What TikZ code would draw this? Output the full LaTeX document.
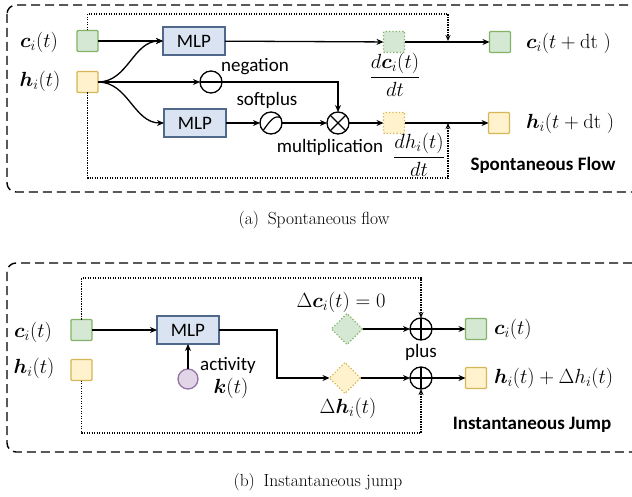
\RequirePackage{fix-cm}
\documentclass[tikz,border=0pt]{standalone}
\usepackage{amsmath,bm}
\usepackage{fontspec}
\newfontfamily\uifont{Carlito}
\usetikzlibrary{arrows.meta,shapes.geometric,calc}

\definecolor{cfill}{HTML}{D5E8D4}
\definecolor{cline}{HTML}{82B366}
\definecolor{hfill}{HTML}{FFF2CC}
\definecolor{hline}{HTML}{D6B656}
\definecolor{mfill}{HTML}{DAE3F1}
\definecolor{mline}{HTML}{50698A}
\definecolor{kfill}{HTML}{E1D5E7}
\definecolor{kline}{HTML}{9673A6}

\newcommand{\uitext}{\uifont\fontsize{19}{22}\selectfont}
\newcommand{\mtext}{\fontsize{20.5}{24}\selectfont}

\begin{document}
\begin{tikzpicture}[x=1pt,y=-1pt,
  every node/.style={inner sep=0pt, outer sep=0pt},
  conn/.style={line width=1.3pt, -{Stealth[length=7pt,width=6pt]}},
  dotl/.style={line width=1.2pt, dash pattern=on 1.2pt off 1.3pt, -{Stealth[length=6pt,width=5pt]}},
  frame/.style={line width=1.4pt, dash pattern=on 9pt off 5pt, rounded corners=9pt},
  statebox/.style={rectangle, minimum size=21pt, line width=1.3pt, rounded corners=1pt},
  cstate/.style={statebox, fill=cfill, draw=cline},
  hstate/.style={statebox, fill=hfill, draw=hline},
  cgrad/.style={statebox, fill=cfill, draw=cline, dotted, line width=1.2pt},
  hgrad/.style={statebox, fill=hfill, draw=hline, dotted, line width=1.2pt},
  cjump/.style={diamond, minimum size=31pt, fill=cfill, draw=cline, dotted, line width=1.2pt},
  hjump/.style={diamond, minimum size=31pt, fill=hfill, draw=hline, dotted, line width=1.2pt},
  mlp/.style={rectangle, minimum width=62pt, minimum height=28pt, fill=mfill, draw=mline, line width=1.3pt, font=\uitext},
  op/.style={circle, minimum size=22pt, draw, line width=1.3pt},
  lbl/.style={font=\uitext},
  mlbl/.style={font=\mtext},
  title/.style={font=\uifont\bfseries\fontsize{19}{22}\selectfont},
  caption/.style={font=\fontsize{17.5}{20}\selectfont}
]
\useasboundingbox (0,0) rectangle (632,497);

% ---------------- (a) spontaneous flow ----------------
\draw[frame] (7,5) rectangle (645,192);

\node[mlbl] (lc) at (39,42) {$\bm{c}_i(t)$};
\node[mlbl] (lh) at (40,81) {$\bm{h}_i(t)$};

\node[cstate] (c) at (87.5,41) {};
\node[hstate] (h) at (87.5,82) {};

\node[mlp] (mlp1) at (194,41) {MLP};
\node[mlp] (mlp2) at (195,123) {MLP};

\node[op] (neg) at (211,82) {};
\draw[line width=1.3pt] (neg.west) -- (neg.east);
\node[op] (soft) at (271,123) {};
\draw[line width=1.2pt] ($(soft)+(-7.5,7)$) .. controls ($(soft)+(-1,-2)$) and ($(soft)+(3,-8)$) .. ($(soft)+(9.5,-5.5)$);
\node[op] (mul) at (338,123) {};
\draw[line width=1.3pt] (mul.north west) -- (mul.south east) (mul.north east) -- (mul.south west);

\node[lbl] (tneg) at (255,67) {negation};
\node[lbl] (tsoft) at (267,100) {softplus};
\node[lbl] (tmul) at (330,147) {multiplication};

\node[cgrad] (dc) at (394,42) {};
\node[hgrad] (dh) at (394,123) {};
\node[mlbl] (ldc) at (395,75) {$\dfrac{d\bm{c}_i(t)}{dt}$};
\node[mlbl] (ldh) at (419,155) {$\dfrac{dh_i(t)}{dt}$};

\node[cstate] (cout) at (500,42) {};
\node[hstate] (hout) at (499,123) {};
\node[mlbl, anchor=west] (lcout) at (526,43) {$\bm{c}_i(t+\mathrm{dt}\;)$};
\node[mlbl, anchor=west] (lhout) at (526,123) {$\bm{h}_i(t+\mathrm{dt}\;)$};

\node[title] (tflow) at (543,165) {Spontaneous Flow};

\draw[conn] (c) -- (mlp1);
\draw[conn] (h.east) to[out=0,in=180] (mlp1.west);
\draw[conn] (h) -- (neg);
\draw[conn] (h.east) to[out=0,in=180] (mlp2.west);
\draw[conn] (mlp1) -- (dc);
\draw[conn] (dc) -- (cout);
\draw[conn] (mlp2) -- (soft);
\draw[conn] (soft) -- (mul);
\draw[conn] (mul) -- (dh);
\draw[conn] (dh) -- (hout);
\draw[conn] (neg.east) -| (mul.north);

\coordinate (jc) at (448,14);
\coordinate (tapc) at (448,41);
\coordinate (jh) at (448,178);
\coordinate (taph) at (448,123);
\draw[dotl] (c.north) |- (jc) -- (tapc);
\draw[dotl] (h.south) |- (jh) -- (taph);

\node[caption] (capa) at (314,220) {(a)\hspace{0.5em}Spontaneous flow};

% ---------------- (b) instantaneous jump ----------------
\draw[frame] (7,263) rectangle (645,452);

\node[mlbl] (lc2) at (33,332) {$\bm{c}_i(t)$};
\node[mlbl] (lh2) at (34,368) {$\bm{h}_i(t)$};

\node[cstate] (c2) at (81.5,330) {};
\node[hstate] (h2) at (81.5,370) {};

\node[mlp] (mlp3) at (188,330) {MLP};
\node[circle, minimum size=20pt, fill=kfill, draw=kline, line width=1.3pt] (act) at (188,379) {};
\node[lbl] (tact) at (228,365) {activity};
\node[mlbl] (lk) at (231,388) {$\bm{k}(t)$};

\node[cjump] (djc) at (347,329) {};
\node[hjump] (djh) at (345,378) {};
\node[mlbl] (ldjc) at (341,302) {$\Delta\bm{c}_i(t)=0$};
\node[mlbl] (ldjh) at (348,408) {$\Delta\bm{h}_i(t)$};

\node[op] (p1) at (421,329) {};
\draw[line width=1.3pt] (p1.north) -- (p1.south) (p1.west) -- (p1.east);
\node[op] (p2) at (421,378) {};
\draw[line width=1.3pt] (p2.north) -- (p2.south) (p2.west) -- (p2.east);
\node[lbl] (tplus) at (421,352) {plus};

\node[cstate] (cout2) at (476,329) {};
\node[hstate] (hout2) at (476,378) {};
\node[mlbl, anchor=west] (lcout2) at (494,329) {$\bm{c}_i(t)$};
\node[mlbl, anchor=west] (lhout2) at (494,378) {$\bm{h}_i(t)+\Delta h_i(t)$};

\node[title] (tjump) at (532,425) {Instantaneous Jump};

\coordinate (kink) at (277,330);
\draw[conn] (c2) -- (mlp3);
\draw[conn] (act) -- (mlp3);
\draw[conn] (mlp3.east) -- (kink) |- (djh.west);
\draw[conn] (djc) -- (p1);
\draw[conn] (djh) -- (p2);
\draw[conn] (p1) -- (cout2);
\draw[conn] (p2) -- (hout2);

\coordinate (jc2) at (421,278);
\coordinate (jh2) at (421,433);
\draw[dotl] (c2.north) |- (jc2) -- (p1.north);
\draw[dotl] (h2.south) |- (jh2) -- (p2.south);

\node[caption] (capb) at (318,482) {(b)\hspace{0.5em}Instantaneous jump};
\end{tikzpicture}
\end{document}
